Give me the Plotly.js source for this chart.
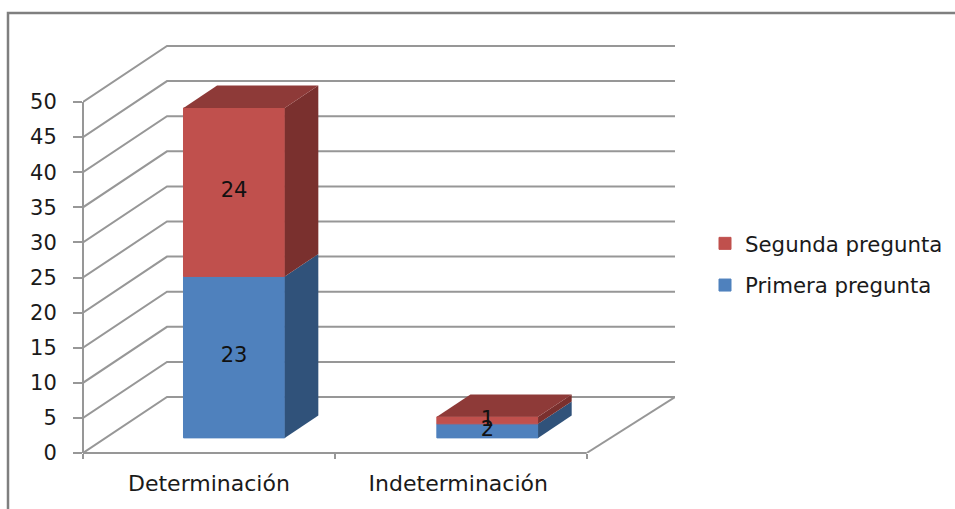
<!DOCTYPE html>
<html>
<head>
<meta charset="utf-8">
<script src="https://cdn.plot.ly/plotly-3.0.1.min.js"></script>
<style>html,body{margin:0;padding:0;background:#fff}</style>
</head>
<body>
<div id="chart" style="width:955px;height:509px"></div>
<script>
var categories = ['Determinación', 'Indeterminación'];
var primera = [23, 2];
var segunda = [24, 1];
var seriesNames = ['Primera pregunta', 'Segunda pregunta'];
var yTicks = [0, 5, 10, 15, 20, 25, 30, 35, 40, 45, 50];
var catEdges = [0, 1, 2];
var catCentres = [0.5, 1.49];

var W = 955, H = 509, L = 83, T = 45, B = 56, R = 280;
var xMax = 592 / 251.85, yMax = 408 / 7.02;
var wallDx = 84 / 251.85, wallDy = 56 / 7.02, wallRight = xMax;
var barOffset = 0.1, barWidth = 0.402;
var frontF = 0.27, depthF = 0.4;
var fx = frontF * wallDx, fy = frontF * wallDy;
var dx = depthF * wallDx, dy = depthF * wallDy;
var textColor = '#1a1a1a', gridColor = '#979797';
var font = 'DejaVu Sans, sans-serif', fs = 21;

var colors = {
  redFront: '#C0504D', redTop: '#8E3A38', redSide: '#7A302E',
  blueFront: '#4F81BD', blueSide: '#30527A'
};

var pos = categories.map(function (c, i) { return i + 0.5 + barOffset + (i ? 0.006 : 0); });
var base1 = pos.map(function () { return fy; });
var base2 = primera.map(function (v) { return fy + v; });
var tops = segunda.map(function (v, i) { return base2[i] + v; });

function face(x0, x1, y0, y1, color, topFace) {
  var xs, ys;
  if (topFace) {
    xs = [x0, x1, x1 + dx, x0 + dx, x0];
    ys = [y1, y1, y1 + dy, y1 + dy, y1];
  } else {
    xs = [x1, x1 + dx, x1 + dx, x1, x1];
    ys = [y0, y0 + dy, y1 + dy, y1, y0];
  }
  return { type: 'scatter', mode: 'lines', x: xs, y: ys, fill: 'toself', fillcolor: color,
    line: { width: 0, color: color }, showlegend: false, hoverinfo: 'skip' };
}

var traces = [
  { type: 'bar', name: seriesNames[0], x: pos, y: primera, base: base1, width: barWidth,
    marker: { color: colors.blueFront, line: { width: 1, color: colors.blueFront } }, legendgroup: 'a', legendrank: 2 },
  { type: 'bar', name: seriesNames[1], x: pos, y: segunda, base: base2, width: barWidth,
    marker: { color: colors.redFront, line: { width: 1, color: colors.redFront } }, legendgroup: 'b', legendrank: 1 }
];
pos.forEach(function (p, i) {
  var x0 = p - barWidth / 2, x1 = p + barWidth / 2;
  traces.push(face(x0, x1, base1[i], base2[i], colors.blueSide, false));
  traces.push(face(x0, x1, base2[i], tops[i], colors.redSide, false));
  traces.push(face(x0, x1, base2[i], tops[i], colors.redTop, true));
});
traces.push({
  type: 'scatter', mode: 'text', xaxis: 'x2', showlegend: false, hoverinfo: 'skip',
  x: pos.concat(pos),
  y: primera.map(function (v, i) { return base1[i] + v / 2; }).concat(segunda.map(function (v, i) { return base2[i] + v / 2; })),
  text: primera.concat(segunda).map(String),
  textposition: 'middle center',
  textfont: { family: font, size: 21, color: '#111' },
  cliponaxis: false
});

var shapes = [];
yTicks.forEach(function (v) {
  shapes.push({ type: 'path', layer: 'below', xref: 'x', yref: 'y',
    path: 'M0,' + v + ' L' + wallDx + ',' + (v + wallDy) + ' L' + wallRight + ',' + (v + wallDy),
    line: { color: gridColor, width: 2 } });
});
shapes.push({ type: 'path', layer: 'below', xref: 'x', yref: 'y',
  path: 'M' + wallRight + ',' + wallDy + ' L2,0',
  line: { color: gridColor, width: 2 } });
function px(x) { return x / xMax; }
function py(y) { return y / yMax; }
shapes.push({ type: 'line', layer: 'below', xref: 'paper', yref: 'paper',
  x0: 0, x1: 0, y0: 0, y1: py(50), line: { color: gridColor, width: 2 } });
shapes.push({ type: 'line', layer: 'below', xref: 'paper', yref: 'paper',
  x0: 0, x1: px(2), y0: 0, y1: 0, line: { color: gridColor, width: 2 } });
var plotW = W - L - R, plotH = H - T - B;
shapes.push({ type: 'path', layer: 'below', xref: 'paper', yref: 'paper',
  path: 'M' + (8 - L) / plotW + ',' + (-B / plotH) + ' L' + (8 - L) / plotW + ',' + (H - B - 13) / plotH + ' L' + (W - L) / plotW + ',' + (H - B - 13) / plotH,
  line: { color: '#7f7f7f', width: 2.5 } });

var layout = {
  width: W, height: H, paper_bgcolor: '#fff', plot_bgcolor: 'rgba(0,0,0,0)',
  margin: { l: L, r: R, t: T, b: B, pad: 0 },
  barmode: 'overlay', showlegend: true, shapes: shapes, hovermode: false,
  font: { family: font, size: fs, color: textColor },
  xaxis: { range: [0, xMax], tickmode: 'array', tickvals: catEdges, ticktext: catEdges.map(function () { return ''; }),
    ticks: 'outside', ticklen: 5, tickwidth: 2, tickcolor: gridColor, showgrid: false, zeroline: false, showline: false, fixedrange: true },
  xaxis2: { overlaying: 'x', anchor: 'y', side: 'bottom', range: [0, xMax], tickmode: 'array', tickvals: catCentres, ticktext: categories,
    ticks: 'outside', ticklen: 1, tickcolor: 'rgba(0,0,0,0)', ticklabelstandoff: 10, showgrid: false, zeroline: false, showline: false, fixedrange: true, tickfont: { family: font, size: 22, color: textColor } },
  yaxis: { range: [0, yMax], tickmode: 'array', tickvals: yTicks, ticks: 'outside', ticklen: 9, tickwidth: 2, tickcolor: gridColor, ticklabelstandoff: 12,
    showgrid: false, zeroline: false, showline: false, fixedrange: true, tickfont: { family: font, size: fs, color: textColor } },
  legend: { xref: 'container', yref: 'container', x: 705 / W, y: 1 - 223 / H, xanchor: 'left', yanchor: 'top', traceorder: 'grouped', tracegroupgap: 11,
    font: { family: font, size: 21.3, color: textColor }, bgcolor: 'rgba(0,0,0,0)' }
};
Plotly.newPlot('chart', traces, layout, { displayModeBar: false, staticPlot: true });
</script>
</body>
</html>
